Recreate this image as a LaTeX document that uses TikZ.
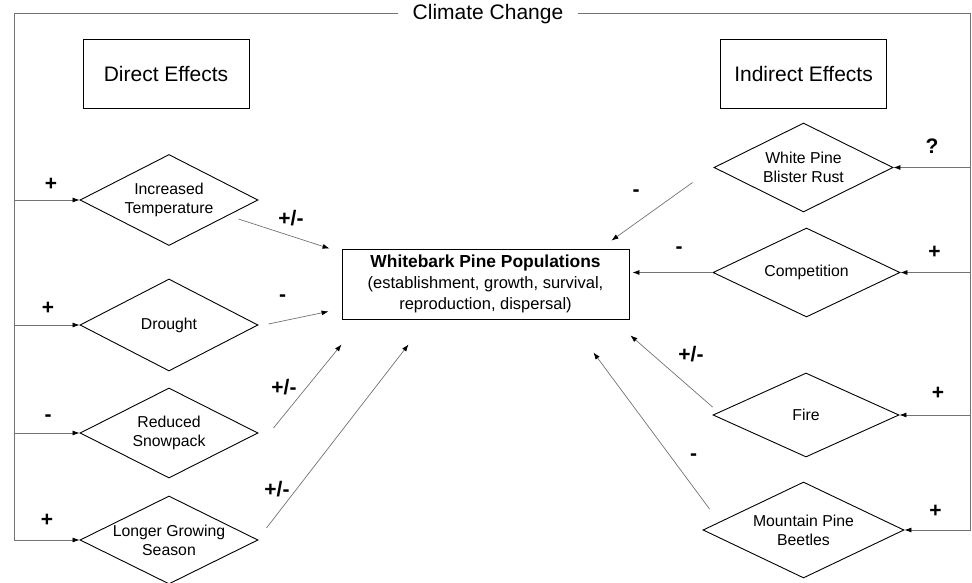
\documentclass[tikz,border=0pt]{standalone}
\usepackage{fontspec}
\setmainfont{Liberation Sans}
\usetikzlibrary{shapes.geometric,arrows.meta,positioning}

\begin{document}
\begin{tikzpicture}
        [x=1pt, y=-1pt,
         wire/.style={draw=black!55, line width=0.7pt},
         feed/.style={wire, -{Latex[length=7pt,width=5pt,color=black]}},
         effect/.style={draw, line width=0.9pt, diamond, aspect=2, inner sep=-4pt, align=center, font=\fontsize{15.8}{19}\selectfont},
         head/.style={draw, line width=0.9pt, minimum width=166pt, minimum height=69pt, font=\fontsize{21}{25}\selectfont},
         sign/.style={inner sep=0pt, font=\bfseries\fontsize{21}{24}\selectfont}]
        
        \useasboundingbox (0,0) rectangle (972,583);
        
        \node [font=\fontsize{21}{25}\selectfont, text height=14pt, text depth=0pt, inner ysep=0pt, inner xsep=15pt] (cc) at (488,13) {Climate Change};
        \coordinate (lft) at (14,13);
        \coordinate (rgt) at (970,13);
        
        \node [head] (direct)   at (166,73.5)   {Direct Effects};
        \node [head] (indirect) at (803.5,73.5) {Indirect Effects};
        
        \node [draw, line width=0.9pt, minimum width=287pt, minimum height=70pt, align=center, font=\fontsize{16.5}{21}\selectfont] (pop) at (485.5,284)
              {{\bfseries\fontsize{17.4}{21}\selectfont Whitebark Pine Populations}\\(establishment, growth, survival,\\reproduction, dispersal)};
        
        \node [effect, minimum width=178pt, minimum height=91pt] (temp)    at (169,200) {Increased\\Temperature};
        \node [effect, minimum width=178pt, minimum height=92pt] (drought) at (169,325) {Drought};
        \node [effect, minimum width=178pt, minimum height=90pt] (snow)    at (169,433) {Reduced\\Snowpack};
        \node [effect, minimum width=178pt, minimum height=88pt] (longer)  at (169,540) {Longer Growing\\Season};
        
        \node [effect, minimum width=179pt, minimum height=89pt] (rust)    at (803.5,167.5) {White Pine\\Blister Rust};
        \node [effect, minimum width=187pt, minimum height=89pt] (comp)    at (806.5,272.5) {Competition};
        \node [effect, minimum width=186pt, minimum height=84pt] (fire)    at (806,415)     {Fire};
        \node [effect, minimum width=201pt, minimum height=96pt] (beetles) at (803.5,530)   {Mountain Pine\\Beetles};
        
        \node [sign] (ptemp)    at (51,184)   {+};
        \node [sign] (pdrought) at (48,308.5) {+};
        \node [sign] (psnow)    at (48,418)   {-};
        \node [sign] (plonger)  at (47,520)   {+};
        \node [sign] (prust)    at (932,146)  {?};
        \node [sign] (pcomp)    at (934.5,252) {+};
        \node [sign] (pfire)    at (938,393.5) {+};
        \node [sign] (pbeetles) at (935.5,511) {+};
        
        \node [sign] (etemp)    at (291,218.5) {+/-};
        \node [sign] (edrought) at (282.5,298) {-};
        \node [sign] (esnow)    at (284,387.5) {+/-};
        \node [sign] (elonger)  at (277,489)   {+/-};
        \node [sign] (erust)    at (636,193)   {-};
        \node [sign] (ecomp)    at (679,250)   {-};
        \node [sign] (efire)    at (691,354)   {+/-};
        \node [sign] (ebeetles) at (693.5,457) {-};
        
        \draw[feed] (cc.west) -- (lft) |- (longer.west);
        \draw[feed] (lft |- temp.west) -- (temp.west);
        \draw[feed] (lft |- drought.west) -- (drought.west);
        \draw[feed] (lft |- snow.west) -- (snow.west);
        
        \draw[feed] (cc.east) -- (rgt) |- (beetles.east);
        \draw[feed] (rgt |- rust.east) -- (rust.east);
        \draw[feed] (rgt |- comp.east) -- (comp.east);
        \draw[feed] (rgt |- fire.east) -- (fire.east);
        
        \draw[feed] ([shift={(-20,19)}]temp.east) -- ([shift={(-12,0)}]pop.north west);
        \draw[feed] ([shift={(10,-1)}]drought.east) -- ([shift={(-13,-8)}]pop.south west);
        \draw[feed] ([shift={(15,-5)}]snow.east) -- ([shift={(0,25)}]pop.south west);
        \draw[feed] ([shift={(8,-12)}]longer.east) -- ([shift={(67,25)}]pop.south west);
        
        \draw[feed] ([shift={(-21,15)}]rust.west) -- ([shift={(-18,-8)}]pop.north east);
        \draw[feed, shorten >=3pt] (comp.west) -- (comp.west -| pop.east);
        \draw[feed] ([shift={(0,-8)}]fire.west) -- ([shift={(1,16)}]pop.south east);
        \draw[feed] ([shift={(7,-21)}]beetles.west) -- ([shift={(-36,33)}]pop.south east);
        
        \end{tikzpicture}
\end{document}
